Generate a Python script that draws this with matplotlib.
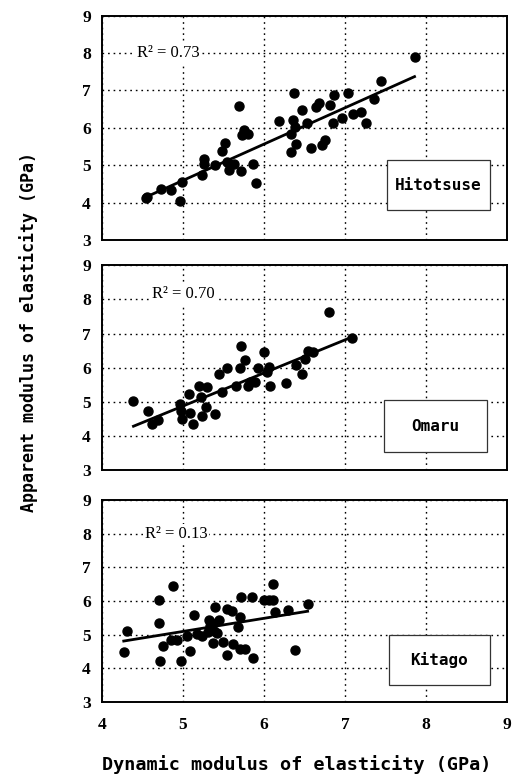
import matplotlib

matplotlib.use("Agg")
import matplotlib.pyplot as plt
from matplotlib.patches import Rectangle
import numpy as np

# Hitotsuse
hito_x = [4.54, 4.56, 4.73, 4.85, 4.99, 4.96, 5.23, 5.26, 5.26, 5.40, 5.48, 5.52,
          5.55, 5.57, 5.63, 5.69, 5.72, 5.73, 5.75, 5.81, 5.87, 5.90, 6.19, 6.33,
          6.34, 6.36, 6.37, 6.38, 6.40, 6.47, 6.53, 6.58, 6.64, 6.68, 6.72, 6.75,
          6.82, 6.85, 6.87, 6.96, 7.04, 7.10, 7.20, 7.26, 7.36, 7.44, 7.86]
hito_y = [4.12, 4.15, 4.37, 4.35, 4.55, 4.04, 4.75, 5.18, 5.04, 5.02, 5.38, 5.60,
          5.09, 4.87, 5.04, 6.58, 4.85, 5.80, 5.94, 5.85, 5.04, 4.53, 6.19, 5.36,
          5.85, 6.21, 6.92, 6.03, 5.58, 6.47, 6.13, 5.46, 6.56, 6.67, 5.54, 5.67,
          6.61, 6.13, 6.89, 6.27, 6.92, 6.38, 6.43, 6.13, 6.76, 7.25, 7.90]

# Omaru
omaru_x = [4.39, 4.57, 4.62, 4.69, 4.97, 4.98, 4.99, 5.08, 5.09, 5.13, 5.20, 5.22,
           5.24, 5.28, 5.30, 5.40, 5.44, 5.48, 5.55, 5.65, 5.71, 5.72, 5.77, 5.81,
           5.83, 5.89, 5.93, 6.00, 6.04, 6.06, 6.07, 6.27, 6.40, 6.47, 6.51, 6.54,
           6.61, 6.80, 7.09]
omaru_y = [5.03, 4.75, 4.36, 4.46, 4.94, 4.75, 4.51, 5.24, 4.68, 4.36, 5.48, 5.14,
           4.59, 4.85, 5.43, 4.66, 5.83, 5.28, 6.00, 5.48, 5.98, 6.65, 6.24, 5.48,
           5.58, 5.58, 5.98, 6.45, 5.88, 6.02, 5.48, 5.55, 6.09, 5.81, 6.26, 6.48,
           6.45, 7.62, 6.88]

# Kitago
kita_x = [4.27, 4.31, 4.70, 4.70, 4.72, 4.76, 4.88, 4.85, 4.93, 4.98, 5.05, 5.09,
          5.14, 5.18, 5.24, 5.31, 5.32, 5.34, 5.36, 5.37, 5.38, 5.40, 5.42, 5.45,
          5.49, 5.54, 5.55, 5.61, 5.62, 5.68, 5.71, 5.71, 5.77, 5.72, 5.85, 5.86,
          6.00, 6.06, 6.11, 6.11, 6.14, 6.30, 6.39, 6.54]
kita_y = [4.49, 5.11, 6.02, 5.36, 4.22, 4.66, 6.46, 4.84, 4.84, 4.22, 4.97, 4.51,
          5.58, 5.02, 4.97, 5.09, 5.43, 5.26, 5.36, 4.76, 5.11, 5.82, 5.06, 5.45,
          4.79, 4.39, 5.75, 5.70, 4.71, 5.22, 5.52, 4.56, 4.56, 6.12, 6.12, 4.30,
          6.04, 6.04, 6.49, 6.02, 5.67, 5.72, 4.54, 5.91]

names = ["Hitotsuse", "Omaru", "Kitago"]
r2_labels = ["R\u00b2 = 0.73", "R\u00b2 = 0.70", "R\u00b2 = 0.13"]
fit_slope = [0.97, 0.967, 0.39]
fit_intercept = [-0.254, 0.045, 3.145]
xticks = [4, 5, 6, 7, 8, 9]
yticks = [3, 4, 5, 6, 7, 8, 9]

xs = [hito_x, omaru_x, kita_x]
ys = [hito_y, omaru_y, kita_y]

# axes rectangles in figure fraction (left, bottom, width, height)
rects = [(0.199, 0.692, 0.791, 0.288),
         (0.199, 0.397, 0.791, 0.263),
         (0.199, 0.100, 0.791, 0.259)]
r2_pos = [(4.43, 8.0), (4.62, 8.17), (4.53, 8.0)]
box_pos = [(0.704, 0.133, 0.254, 0.222),
           (0.696, 0.088, 0.254, 0.254),
           (0.709, 0.084, 0.249, 0.248)]

serif = "Liberation Serif"
mono = "DejaVu Sans Mono"

fig = plt.figure(figsize=(5.12, 7.8), dpi=100)

for i in range(3):
    ax = fig.add_axes(rects[i])
    ax.set_xlim(4, 9)
    ax.set_ylim(3, 9)
    ax.set_xticks(xticks)
    ax.set_yticks(yticks)
    ax.grid(True, color="black", linestyle=(0, (1.2, 2.8)), linewidth=1.0)
    ax.set_axisbelow(True)
    for sp in ax.spines.values():
        sp.set_linewidth(1.4)
    ax.tick_params(length=0, pad=8)
    for lab in ax.get_yticklabels():
        lab.set_fontfamily(serif)
        lab.set_fontweight("bold")
        lab.set_fontsize(12.5)
    if i < 2:
        ax.set_xticklabels([])
    else:
        ax.tick_params(axis="x", pad=11)
        for lab in ax.get_xticklabels():
            lab.set_fontfamily(serif)
            lab.set_fontweight("bold")
            lab.set_fontsize(12.5)

    x = np.array(xs[i])
    y = np.array(ys[i])
    ax.plot(x, y, "o", color="black", markersize=6.5, zorder=3)

    # trend line over the data range
    xl = np.array([x.min(), x.max()])
    ax.plot(xl, fit_slope[i] * xl + fit_intercept[i], color="black", linewidth=2.0, zorder=3)

    ax.text(r2_pos[i][0], r2_pos[i][1], r2_labels[i], fontfamily=serif, fontsize=12,
            va="center", ha="left", zorder=4,
            bbox=dict(facecolor="white", edgecolor="none", pad=1.5))

    bx, by, bw, bh = box_pos[i]
    ax.add_patch(Rectangle((bx, by), bw, bh, transform=ax.transAxes, facecolor="white",
                           edgecolor="#333333", linewidth=0.9, zorder=4))
    ax.text(bx + bw / 2, by + bh / 2, names[i], transform=ax.transAxes, fontfamily=mono,
            fontweight="bold", fontsize=11.5, ha="center", va="center", zorder=5)

fig.text(0.58, 0.02, "Dynamic modulus of elasticity (GPa)", fontfamily=mono,
         fontweight="bold", fontsize=13.3, ha="center", va="center")
fig.text(0.055, 0.574, "Apparent modulus of elasticity (GPa)", fontfamily=mono,
         fontweight="bold", fontsize=12, ha="center", va="center", rotation=90)

fig.savefig("out.png", dpi=100)
